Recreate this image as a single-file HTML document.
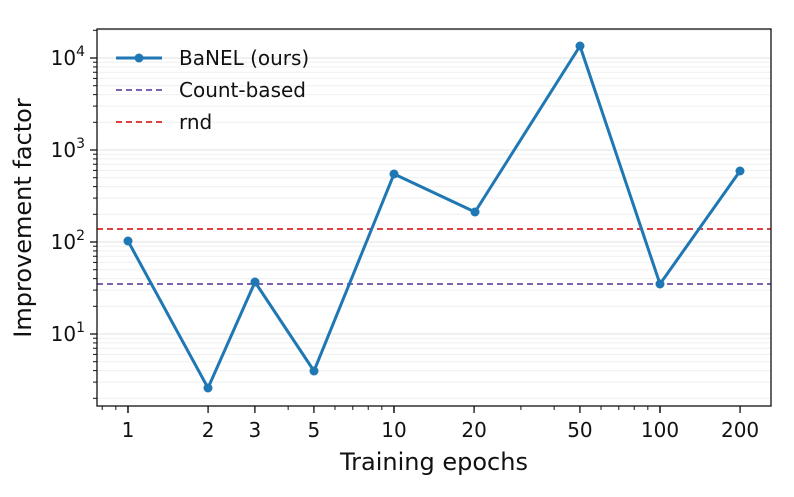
<!DOCTYPE html>
<html><head><style>body{margin:0;background:#fff}svg{display:block}text{font-family:"DejaVu Sans","Liberation Sans",sans-serif;fill:#111}</style></head>
<body>
<svg id="s" width="794" height="497" xmlns="http://www.w3.org/2000/svg"></svg>
<script>
const s=document.getElementById('s');let h='';
const X=v=>128+266*Math.log10(v), Y=v=>334-92*(Math.log10(v)-1);
const L=97,R=771,T=29,B=406;
for(let e=0;e<=4;e++)for(let m=1;m<10;m++){const v=m*Math.pow(10,e);const y=Y(v);if(y<T||y>B)continue;
 h+=`<line x1="${L}" x2="${R}" y1="${y}" y2="${y}" stroke="${m==1?'#e0e0e0':'#efefef'}" stroke-width="1"/>`;
 h+=`<line x1="${L}" x2="${L-(m==1?7:4)}" y1="${y}" y2="${y}" stroke="#111" stroke-width="${m==1?1.3:1}"/>`;
 if(m==1&&e>=1)h+=`<text x="${L-12}" y="${y+7}" font-size="20" text-anchor="end">10<tspan dy="-9" font-size="14">${e}</tspan></text>`;}
for(let e=-1;e<=2;e++)for(let m=1;m<10;m++){const v=m*Math.pow(10,e);const x=X(v);if(x<L||x>R)continue;
 h+=`<line x1="${x}" x2="${x}" y1="${B}" y2="${B+(m==1?7:4)}" stroke="#111" stroke-width="${m==1?1.3:1}"/>`;}
[1,2,3,5,10,20,50,100,200].forEach(v=>{h+=`<line x1="${X(v)}" x2="${X(v)}" y1="${B}" y2="${B+7}" stroke="#111" stroke-width="1.3"/><text x="${X(v)}" y="${B+31}" font-size="20" text-anchor="middle">${v}</text>`});
h+=`<line x1="${L}" x2="${R}" y1="229" y2="229" stroke="#d62728" stroke-width="1.8" stroke-dasharray="6,4"/>`;
h+=`<line x1="${L}" x2="${R}" y1="284" y2="284" stroke="#6a4fa8" stroke-width="1.8" stroke-dasharray="6,4"/>`;
const pts=[[128,241],[208,388],[255,282],[314,371],[394,174],[475,212],[580,46],[660,284],[740,171]];
h+=`<polyline points="${pts.map(p=>p.join(',')).join(' ')}" fill="none" stroke="#1f77b4" stroke-width="3" stroke-linejoin="round"/>`;
pts.forEach(p=>h+=`<circle cx="${p[0]}" cy="${p[1]}" r="4.5" fill="#1f77b4"/>`);
h+=`<rect x="${L}" y="${T}" width="${R-L}" height="${B-T}" fill="none" stroke="#111" stroke-width="1.3"/>`;
h+=`<line x1="116" x2="162" y1="58" y2="58" stroke="#1f77b4" stroke-width="3"/><circle cx="139" cy="58" r="4.5" fill="#1f77b4"/><text x="179" y="65" font-size="20">BaNEL (ours)</text>`;
h+=`<line x1="116" x2="162" y1="90" y2="90" stroke="#6a4fa8" stroke-width="1.8" stroke-dasharray="6,4"/><text x="179" y="97" font-size="20">Count-based</text>`;
h+=`<line x1="116" x2="162" y1="122" y2="122" stroke="#d62728" stroke-width="1.8" stroke-dasharray="6,4"/><text x="179" y="129" font-size="20">rnd</text>`;
h+=`<text x="434" y="470" font-size="24" text-anchor="middle">Training epochs</text>`;
h+=`<text transform="translate(31,218) rotate(-90)" font-size="24" text-anchor="middle">Improvement factor</text>`;
s.innerHTML=h;
</script>
</body></html>
